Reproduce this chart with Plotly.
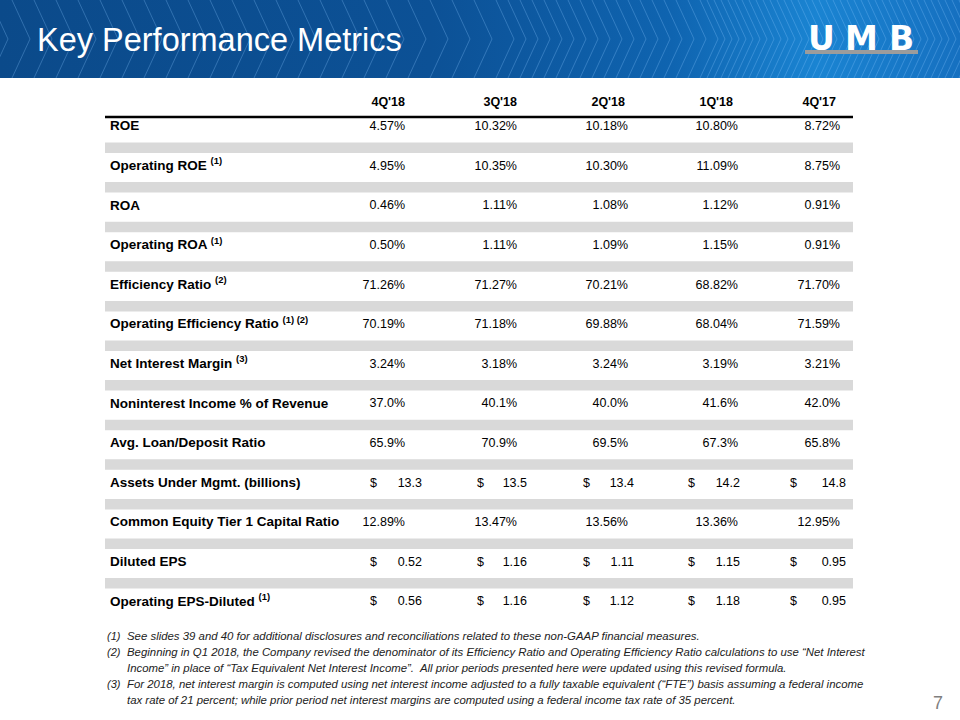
import plotly.graph_objects as go

# ---------------- data ----------------
quarters = ["4Q'18", "3Q'18", "2Q'18", "1Q'18", "4Q'17"]

metric_labels = [
    "ROE",
    "Operating ROE <sup>(1)</sup>",
    "ROA",
    "Operating ROA <sup>(1)</sup>",
    "Efficiency Ratio <sup>(2)</sup>",
    "Operating Efficiency Ratio <sup>(1) (2)</sup>",
    "Net Interest Margin <sup>(3)</sup>",
    "Noninterest Income % of Revenue",
    "Avg. Loan/Deposit Ratio",
    "Assets Under Mgmt. (billions)",
    "Common Equity Tier 1 Capital Ratio",
    "Diluted EPS",
    "Operating EPS-Diluted <sup>(1)</sup>",
]

roe = [4.57, 10.32, 10.18, 10.80, 8.72]
operating_roe = [4.95, 10.35, 10.30, 11.09, 8.75]
roa = [0.46, 1.11, 1.08, 1.12, 0.91]
operating_roa = [0.50, 1.11, 1.09, 1.15, 0.91]
efficiency_ratio = [71.26, 71.27, 70.21, 68.82, 71.70]
operating_efficiency_ratio = [70.19, 71.18, 69.88, 68.04, 71.59]
net_interest_margin = [3.24, 3.18, 3.24, 3.19, 3.21]
noninterest_income_pct = [37.0, 40.1, 40.0, 41.6, 42.0]
avg_loan_deposit_ratio = [65.9, 70.9, 69.5, 67.3, 65.8]
assets_under_mgmt = [13.3, 13.5, 13.4, 14.2, 14.8]
cet1_ratio = [12.89, 13.47, 13.56, 13.36, 12.95]
diluted_eps = [0.52, 1.16, 1.11, 1.15, 0.95]
operating_eps_diluted = [0.56, 1.16, 1.12, 1.18, 0.95]

# (values, kind, decimals)
rows = [
    (roe, "pct", 2),
    (operating_roe, "pct", 2),
    (roa, "pct", 2),
    (operating_roa, "pct", 2),
    (efficiency_ratio, "pct", 2),
    (operating_efficiency_ratio, "pct", 2),
    (net_interest_margin, "pct", 2),
    (noninterest_income_pct, "pct", 1),
    (avg_loan_deposit_ratio, "pct", 1),
    (assets_under_mgmt, "usd", 1),
    (cet1_ratio, "pct", 2),
    (diluted_eps, "usd", 2),
    (operating_eps_diluted, "usd", 2),
]

footnotes = [
    ("(1)", "See slides 39 and 40 for additional disclosures and reconciliations related to these non-GAAP financial measures."),
    ("(2)", "Beginning in Q1 2018, the Company revised the denominator of its Efficiency Ratio and Operating Efficiency Ratio calculations to use \u201cNet Interest"),
    ("", "Income\u201d in place of \u201cTax Equivalent Net Interest Income\u201d.  All prior periods presented here were updated using this revised formula."),
    ("(3)", "For 2018, net interest margin is computed using net interest income adjusted to a fully taxable equivalent (\u201cFTE\u201d) basis assuming a federal income"),
    ("", "tax rate of 21 percent; while prior period net interest margins are computed using a federal income tax rate of 35 percent."),
]

title = "Key Performance Metrics"
page_number = "7"

# ---------------- layout constants ----------------
W, H = 960, 720
FONT = "Liberation Sans, Arial, sans-serif"
TABLE_LEFT, TABLE_RIGHT = 105, 853
LABEL_X = 110
HEADER_Y = 103
ROW0_Y = 127
ROW_STEP = 39.6
COL_RIGHT = [405, 517, 628, 738, 840]
HEAD_RIGHT = [405, 517, 625, 733, 836]
USD_SIGN_X = [370, 477, 583, 688, 790]
USD_RIGHT = [422, 527, 634, 740, 846]
VALUE_SIZE = 12.5
LABEL_SIZE = 13.5

fig = go.Figure()

# header band (gradient)
fig.add_trace(go.Scatter(
    x=[0, W, W, 0, 0], y=[0, 0, 78, 78, 0], mode="lines", fill="toself",
    line=dict(width=0), hoverinfo="skip", showlegend=False,
    fillgradient=dict(type="horizontal", colorscale=[
        [0.0, "#0b4a8a"], [0.45, "#0c5196"], [0.7, "#0f64b0"],
        [0.85, "#1a84d2"], [1.0, "#1670c0"]]),
))

# chevron decoration
path = ""
x = -10.0
while x < W:
    path += f"M{x},0 L{x+18},39 L{x},78 "
    x += 22 if x < 480 else (12 if x < 700 else 7)
shapes = [dict(type="path", path=path, xref="x", yref="y",
               line=dict(color="rgba(140,200,255,0.30)", width=1), layer="above")]

# table header line and bands
shapes.append(dict(type="line", x0=TABLE_LEFT, x1=TABLE_RIGHT, y0=117, y1=117,
                   xref="x", yref="y", line=dict(color="black", width=2.5)))
for i in range(len(rows) - 1):
    yc = ROW0_Y + i * ROW_STEP
    shapes.append(dict(type="rect", x0=TABLE_LEFT, x1=TABLE_RIGHT, y0=yc + 15.5, y1=yc + 26,
                       xref="x", yref="y", fillcolor="#d9d9d9", line=dict(width=0), layer="below"))
# logo bar
shapes.append(dict(type="rect", x0=805, x1=918, y0=50, y1=54, xref="x", yref="y",
                   fillcolor="#9c9c9c", line=dict(width=0), layer="above"))

# column headers
fig.add_trace(go.Scatter(
    x=HEAD_RIGHT, y=[HEADER_Y] * len(quarters), mode="text", text=[f"<b>{q}</b>" for q in quarters],
    textposition="middle left", textfont=dict(family=FONT, size=VALUE_SIZE, color="black"),
    hoverinfo="skip", showlegend=False))

# row labels
row_y = [ROW0_Y + i * ROW_STEP for i in range(len(rows))]
fig.add_trace(go.Scatter(
    x=[LABEL_X] * len(metric_labels), y=row_y, mode="text",
    text=[f"<b>{m}</b>" for m in metric_labels], textposition="middle right",
    textfont=dict(family=FONT, size=LABEL_SIZE, color="black"),
    hoverinfo="skip", showlegend=False))

# values
px, py, pt = [], [], []
sx, sy = [], []
ux, uy, ut = [], [], []
for i, (vals, kind, dec) in enumerate(rows):
    for j, v in enumerate(vals):
        if kind == "pct":
            px.append(COL_RIGHT[j]); py.append(row_y[i]); pt.append(f"{v:.{dec}f}%")
        else:
            sx.append(USD_SIGN_X[j]); sy.append(row_y[i])
            ux.append(USD_RIGHT[j]); uy.append(row_y[i]); ut.append(f"{v:.{dec}f}")

vfont = dict(family=FONT, size=VALUE_SIZE, color="black")
fig.add_trace(go.Scatter(x=px, y=py, mode="text", text=pt, textposition="middle left",
                         textfont=vfont, hoverinfo="skip", showlegend=False))
fig.add_trace(go.Scatter(x=sx, y=sy, mode="text", text=["$"] * len(sx), textposition="middle right",
                         textfont=vfont, hoverinfo="skip", showlegend=False))
fig.add_trace(go.Scatter(x=ux, y=uy, mode="text", text=ut, textposition="middle left",
                         textfont=vfont, hoverinfo="skip", showlegend=False))

# annotations: title, logo, footnotes, page number
ann = [
    dict(x=35, y=40, text=title, xanchor="left", yanchor="middle", showarrow=False,
         font=dict(family=FONT, size=32.5, color="white")),
]
for letter, lx in zip("UMB", [821, 861, 901]):
    ann.append(dict(x=lx, y=38, text=f"<b>{letter}</b>", xanchor="center", yanchor="middle",
                    showarrow=False, font=dict(family="DejaVu Sans, sans-serif", size=33, color="white")))
for k, (num, txt) in enumerate(footnotes):
    fy = 636 + k * 16
    if num:
        ann.append(dict(x=105, y=fy, text=f"<i>{num}</i>", xanchor="left", yanchor="middle",
                        showarrow=False, font=dict(family=FONT, size=11, color="#222222")))
    ann.append(dict(x=125, y=fy, text=f"<i>{txt}</i>", xanchor="left", yanchor="middle",
                    showarrow=False, font=dict(family=FONT, size=11.4, color="#222222")))
ann.append(dict(x=938, y=703, text=page_number, xanchor="center", yanchor="middle", showarrow=False,
                font=dict(family=FONT, size=18, color="#7f7f7f")))

for a in ann:
    a.update(xref="x", yref="y")

fig.update_layout(
    width=W, height=H, margin=dict(l=0, r=0, t=0, b=0),
    paper_bgcolor="white", plot_bgcolor="white",
    xaxis=dict(range=[0, W], visible=False, fixedrange=True),
    yaxis=dict(range=[H, 0], visible=False, fixedrange=True),
    shapes=shapes, annotations=ann, showlegend=False,
)

fig.write_html("out.html", config={"displayModeBar": False},
               post_script="document.body.style.margin='0';document.body.style.overflow='hidden';")
